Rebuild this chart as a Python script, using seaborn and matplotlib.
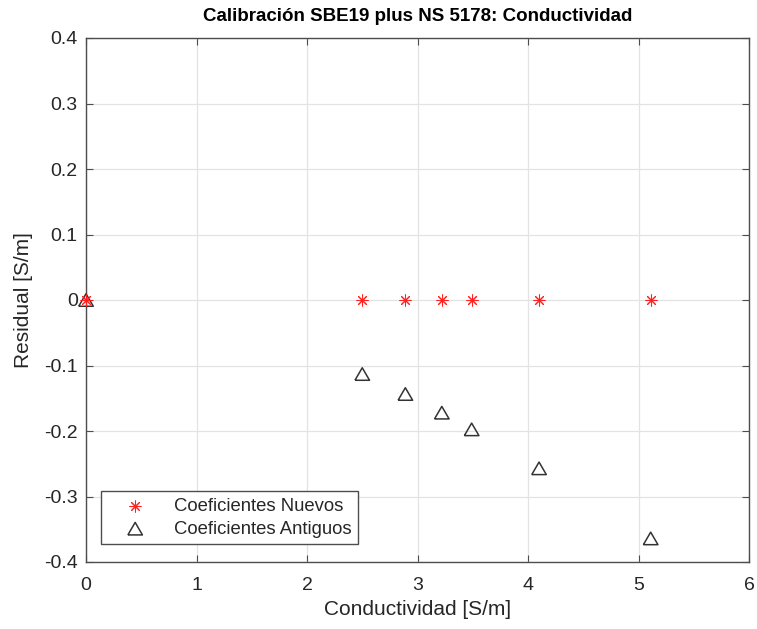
import matplotlib
matplotlib.use("Agg")
import matplotlib.pyplot as plt
import seaborn as sns
import pandas as pd

# Data
conductividad = [0.0, 2.50, 2.89, 3.22, 3.49, 4.10, 5.11]
residual_nuevos = [0.0, 0.0, 0.0, 0.0, 0.0, 0.0, 0.0]
residual_antiguos = [0.0, -0.113, -0.1435, -0.172, -0.1975, -0.257, -0.364]
xticks = [0, 1, 2, 3, 4, 5, 6]
yticks = [0.4, 0.3, 0.2, 0.1, 0.0, -0.1, -0.2, -0.3, -0.4]
ytick_labels = ["0.4", "0.3", "0.2", "0.1", "0", "-0.1", "-0.2", "-0.3", "-0.4"]
title = "Calibración SBE19 plus NS 5178: Conductividad"
xlabel = "Conductividad [S/m]"
ylabel = "Residual [S/m]"
label_nuevos = "Coeficientes Nuevos"
label_antiguos = "Coeficientes Antiguos"

sns.set_theme(style="white")
plt.rcParams["font.family"] = ["Liberation Sans", "DejaVu Sans"]

df_n = pd.DataFrame({"x": conductividad, "y": residual_nuevos})
df_a = pd.DataFrame({"x": conductividad, "y": residual_antiguos})

fig = plt.figure(figsize=(7.57, 6.29), dpi=100)
ax = fig.add_axes([86 / 757, 1 - 562 / 629, 663 / 757, 524 / 629])

txt = "#262626"
spine_c = "#4d4d4d"

tri = [(-1, -0.86), (1, -0.86), (0, 0.86), (-1, -0.86)]

sns.scatterplot(data=df_n, x="x", y="y", ax=ax, marker=(8, 2, 0), s=64,
                color="#ff2020", linewidths=0.75, label=label_nuevos, zorder=4,
                clip_on=False)
sns.scatterplot(data=df_a, x="x", y="y", ax=ax, marker=tri, s=110,
                facecolor="none", edgecolor="#333333", linewidth=1.1,
                label=label_antiguos, zorder=3, clip_on=False)

ax.set_xlim(0, 6)
ax.set_ylim(-0.4, 0.4)
ax.set_xticks(xticks)
ax.set_xticklabels([str(t) for t in xticks])
ax.set_yticks(yticks)
ax.set_yticklabels(ytick_labels)

ax.grid(True, color="#e3e3e3", linewidth=0.9, zorder=0)
ax.set_axisbelow(True)
for sp in ax.spines.values():
    sp.set_color(spine_c)
    sp.set_linewidth(1.0)
    sp.set_visible(True)

ax.tick_params(axis="both", which="both", direction="in", length=5, width=0.8,
               color=spine_c, top=True, right=True, bottom=True, left=True,
               labelsize=14, labelcolor=txt, pad=6)
ax.tick_params(axis="x", pad=11)

ax.set_title(title, fontsize=13.5, fontweight="bold", color="#000000", pad=12)
ax.set_xlabel(xlabel, fontsize=15, color=txt, labelpad=4)
ax.set_ylabel(ylabel, fontsize=15, color=txt, labelpad=8)

leg = ax.legend(loc="lower left", bbox_to_anchor=(0.0226, 0.0344), borderaxespad=0,
                fontsize=13.3, frameon=True, fancybox=False, framealpha=1,
                edgecolor=spine_c, handlelength=3.0, handletextpad=0.6,
                borderpad=0.35, labelspacing=0.32)
leg.get_frame().set_linewidth(1.0)
for t in leg.get_texts():
    t.set_color(txt)

fig.savefig("out.png", dpi=100)
